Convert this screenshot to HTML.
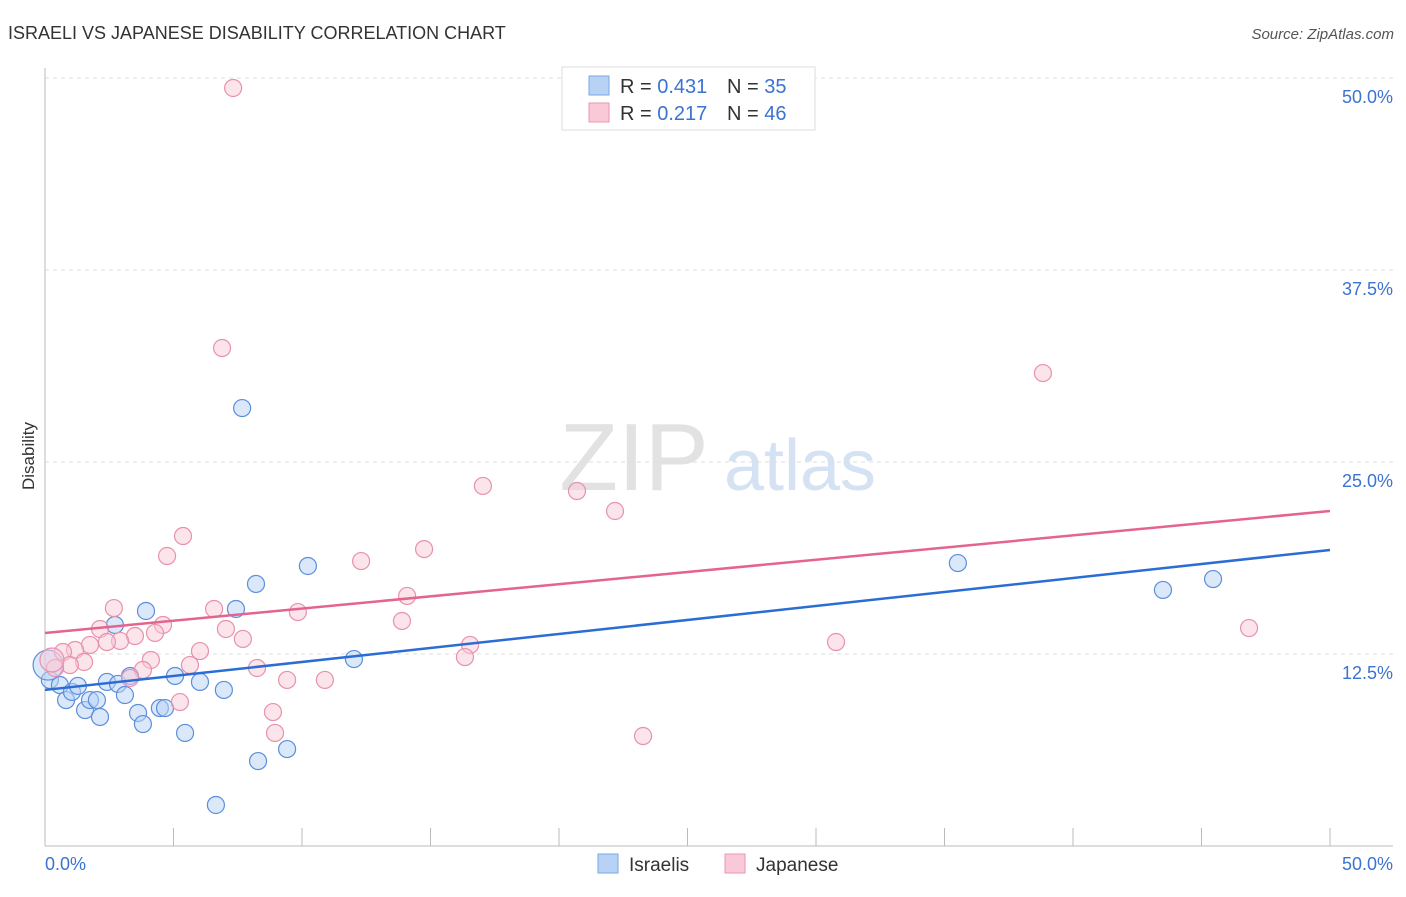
<!DOCTYPE html>
<html><head><meta charset="utf-8"><style>
body{margin:0;background:#fff;font-family:"Liberation Sans",sans-serif;}
svg text{font-family:"Liberation Sans",sans-serif;}
</style></head><body>
<svg id="chart" width="1406" height="892" xmlns="http://www.w3.org/2000/svg">
<text x="8" y="39" font-size="18" fill="#333">ISRAELI VS JAPANESE DISABILITY CORRELATION CHART</text>
<text x="1394" y="39" font-size="15" fill="#555" font-style="italic" text-anchor="end">Source: ZipAtlas.com</text>
<text x="634" y="490" font-size="96" fill="#e2e2e2" font-family="Liberation Serif" text-anchor="middle">ZIP</text>
<text x="800" y="490" font-size="72" fill="#d4e2f4" text-anchor="middle">atlas</text>
<text transform="translate(34,456) rotate(-90)" font-size="17" fill="#333" text-anchor="middle">Disability</text>
<g id="grid"></g><g id="axes"></g><g id="marks"></g>
<g>
<rect x="562" y="67" width="253" height="63" fill="#fff" stroke="#ddd"/>
<rect x="589" y="76" width="20" height="19" fill="#b7d2f5" stroke="#7aa6e6"/>
<rect x="589" y="103" width="20" height="19" fill="#f9c9d8" stroke="#eb95b2"/>
<text x="620" y="93" font-size="20" fill="#333">R = <tspan fill="#3b73d1">0.431</tspan></text>
<text x="727" y="93" font-size="20" fill="#333">N = <tspan fill="#3b73d1">35</tspan></text>
<text x="620" y="120" font-size="20" fill="#333">R = <tspan fill="#3b73d1">0.217</tspan></text>
<text x="727" y="120" font-size="20" fill="#333">N = <tspan fill="#3b73d1">46</tspan></text>
</g>
<g>
<rect x="598" y="854" width="20" height="19" fill="#b7d2f5" stroke="#7aa6e6"/>
<text x="629" y="871" font-size="19" fill="#333">Israelis</text>
<rect x="725" y="854" width="20" height="19" fill="#f9c9d8" stroke="#eb95b2"/>
<text x="756" y="871" font-size="19" fill="#333">Japanese</text>
</g>
</svg>
<script>
const yTicks=[12.5,25,37.5,50];
const yTickLabels=["12.5%","25.0%","37.5%","50.0%"];
const xTickCount=10;
const israeliX=[0.19,0.58,0.82,1.05,1.28,1.56,1.75,2.02,2.14,2.41,2.72,2.84,3.11,3.31,3.62,3.81,3.93,4.47,4.67,5.06,5.45,6.03,6.65,6.96,7.43,7.67,8.21,8.29,9.42,10.23,12.02,35.52,43.5,45.45,0.12];
const israeliY=[10.81,10.48,9.5,10.03,10.42,8.85,9.5,9.5,8.4,10.68,14.39,10.55,9.83,11.07,8.66,7.94,15.3,8.98,8.98,11.07,7.36,10.68,2.67,10.16,15.43,28.51,17.06,5.53,6.31,18.23,12.17,18.42,16.67,17.38,11.78];
const japaneseX=[7.32,6.89,38.83,17.04,20.7,22.18,5.37,4.75,14.75,12.3,2.68,6.58,9.84,14.09,13.89,4.59,2.14,7.04,4.28,3.5,7.7,2.92,2.41,1.75,1.17,0.7,6.03,16.54,30.78,46.85,4.12,1.52,0.97,0.39,5.64,3.81,8.25,3.31,9.42,10.89,16.34,5.25,8.87,8.95,23.27,0.27];
const japaneseY=[49.35,32.42,30.79,23.44,23.11,21.81,20.18,18.88,19.33,18.55,15.49,15.43,15.23,16.28,14.65,14.39,14.13,14.13,13.87,13.67,13.48,13.35,13.28,13.09,12.76,12.63,12.69,13.09,13.28,14.19,12.11,11.98,11.78,11.59,11.78,11.46,11.59,10.94,10.81,10.81,12.3,9.37,8.72,7.36,7.16,12.11];
const israeliTrend=[10.16,19.27];
const japaneseTrend=[13.87,21.81];
const NS="http://www.w3.org/2000/svg";
const X=v=>45+v/50*1285, Y=v=>846-v/12.5*192;
function mk(t,a,p){const e=document.createElementNS(NS,t);for(const k in a)e.setAttribute(k,a[k]);p.appendChild(e);return e;}
const grid=document.getElementById('grid'),axes=document.getElementById('axes'),marks=document.getElementById('marks');
yTicks.forEach((t,i)=>{
 const l=mk('line',{x1:45,x2:1393,y1:Y(t),y2:Y(t),stroke:'#ddd','stroke-dasharray':'4,4'},grid);
 
 
 const tx=mk('text',{x:1393,y:Y(t)+25,'font-size':18,fill:'#3b73d1','text-anchor':'end'},axes);
 tx.textContent=yTickLabels[i];
 
 
});
mk('line',{x1:45,x2:45,y1:68,y2:846,stroke:'#bbb'},axes);
mk('line',{x1:45,x2:1393,y1:846,y2:846,stroke:'#bbb'},axes);
for(let i=0;i<=xTickCount;i++){const x=X(i*5);const t=mk('line',{x1:x,x2:x,y1:828,y2:846,stroke:'#bbb'},axes);
 
 }
const x0=mk('text',{x:45,y:870,'font-size':18,fill:'#3b73d1'},axes);x0.textContent='0.0%';


const x1=mk('text',{x:1393,y:870,'font-size':18,fill:'#3b73d1','text-anchor':'end'},axes);x1.textContent='50.0%';


function pts(xs,ys,fill,stroke,name,bigR){xs.forEach((v,i)=>{const r=(i===xs.length-1)?bigR:8.5;const c=mk('circle',{cx:X(v),cy:Y(ys[i]),r:r,fill:fill,'fill-opacity':0.5,stroke:stroke,'stroke-width':1.2},marks);
 
 });}
pts(israeliX,israeliY,'#b7d2f5','#5b8fdc','israeli-point',15);
pts(japaneseX,japaneseY,'#f9c9d8','#e891ae','japanese-point',12);
const b=mk('line',{x1:X(0),x2:X(50),y1:Y(israeliTrend[0]),y2:Y(israeliTrend[1]),stroke:'#2a6dd4','stroke-width':2.5},marks);


const p=mk('line',{x1:X(0),x2:X(50),y1:Y(japaneseTrend[0]),y2:Y(japaneseTrend[1]),stroke:'#e4648f','stroke-width':2.5},marks);


</script>
</body></html>
